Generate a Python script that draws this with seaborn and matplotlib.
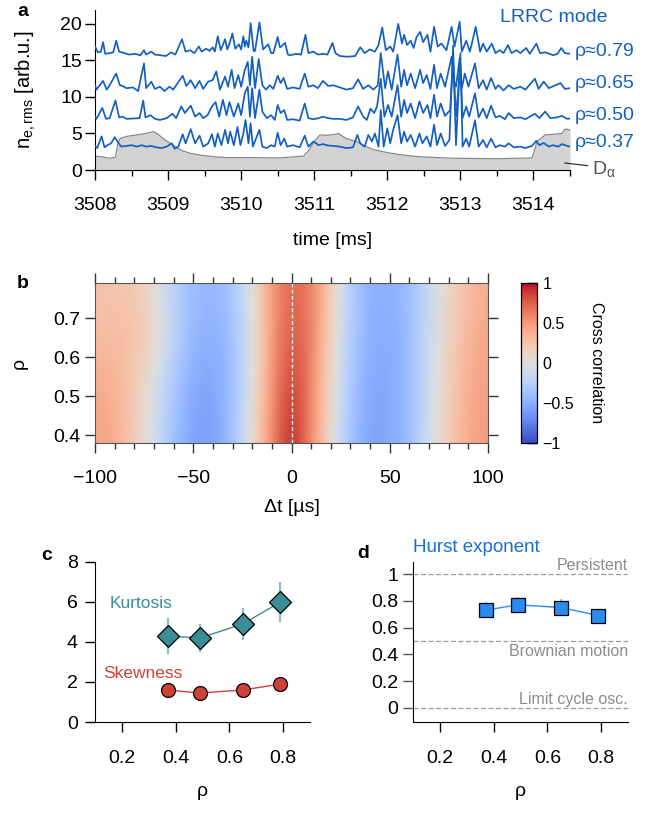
import numpy as np
import matplotlib
matplotlib.use("Agg")
import matplotlib.pyplot as plt
import seaborn as sns
from matplotlib.ticker import MultipleLocator, FixedLocator, FixedFormatter

sns.set_style("ticks")
plt.rcParams["font.family"] = ["Liberation Sans", "DejaVu Sans"]
plt.rcParams["mathtext.default"] = "regular"
for k in ["text.color", "axes.labelcolor", "xtick.color", "ytick.color", "axes.edgecolor"]:
    plt.rcParams[k] = "black"

# ---- panel a: rms density fluctuation traces (vertices) ----
t_079 = [3508.00, 3508.04, 3508.08, 3508.11, 3508.14, 3508.20, 3508.25, 3508.29, 3508.33, 3508.40,
         3508.47, 3508.55, 3508.62, 3508.67, 3508.70, 3508.77, 3508.82, 3508.90, 3508.97, 3509.04,
         3509.10, 3509.19, 3509.24, 3509.30, 3509.36, 3509.42, 3509.46, 3509.52, 3509.57, 3509.61,
         3509.64, 3509.68, 3509.72, 3509.78, 3509.81, 3509.84, 3509.88, 3509.92, 3509.97, 3510.00,
         3510.03, 3510.05, 3510.07, 3510.10, 3510.13, 3510.17, 3510.19, 3510.25, 3510.30, 3510.37,
         3510.41, 3510.44, 3510.50, 3510.53, 3510.55, 3510.60, 3510.64, 3510.67, 3510.75, 3510.82,
         3510.88, 3510.92, 3510.99, 3511.05, 3511.12, 3511.18, 3511.25, 3511.29, 3511.35, 3511.45,
         3511.56, 3511.63, 3511.69, 3511.76, 3511.83, 3511.88, 3511.93, 3511.98, 3512.04, 3512.08,
         3512.15, 3512.20, 3512.23, 3512.27, 3512.32, 3512.36, 3512.40, 3512.45, 3512.49, 3512.55,
         3512.59, 3512.64, 3512.69, 3512.74, 3512.81, 3512.88, 3512.92, 3512.99, 3513.02, 3513.08,
         3513.13, 3513.21, 3513.27, 3513.31, 3513.36, 3513.43, 3513.48, 3513.54, 3513.59, 3513.65,
         3513.70, 3513.77, 3513.82, 3513.90, 3513.95, 3514.04, 3514.09, 3514.16, 3514.22, 3514.27,
         3514.33, 3514.38, 3514.43, 3514.50]
n_079 = [16.9, 16.1, 16.2, 17.5, 15.9, 16.0, 16.1, 17.7, 16.2, 16.0,
         15.8, 15.9, 15.7, 16.4, 15.8, 16.2, 15.8, 15.7, 15.6, 16.1,
         15.8, 17.9, 16.2, 16.4, 16.0, 16.9, 16.2, 16.6, 16.3, 16.8,
         16.2, 18.3, 16.4, 17.9, 16.5, 17.3, 18.7, 16.6, 17.2, 16.5,
         18.3, 16.9, 17.7, 16.8, 20.1, 16.3, 16.3, 20.2, 16.5, 17.2,
         16.0, 16.0, 18.2, 16.8, 16.9, 17.4, 15.8, 15.7, 15.9, 15.8,
         18.5, 16.0, 16.2, 15.8, 15.9, 15.8, 17.4, 16.0, 15.6, 15.5,
         15.6, 16.8, 16.0, 16.5, 16.2, 17.1, 19.5, 16.4, 16.9, 16.2,
         20.0, 17.3, 18.5, 17.1, 17.7, 16.7, 18.2, 18.9, 17.5, 18.5,
         16.2, 19.6, 16.9, 17.3, 16.4, 19.6, 16.9, 20.3, 16.2, 17.7,
         16.2, 19.6, 16.2, 17.3, 16.2, 17.3, 16.0, 16.4, 16.0, 17.1,
         16.0, 16.4, 16.0, 16.7, 15.9, 17.3, 16.0, 16.1, 15.9, 15.7,
         15.9, 16.7, 16.0, 15.9]

t_065 = [3508.00, 3508.02, 3508.11, 3508.16, 3508.20, 3508.29, 3508.34, 3508.38, 3508.43, 3508.52,
         3508.59, 3508.67, 3508.70, 3508.77, 3508.82, 3508.89, 3508.95, 3509.02, 3509.07, 3509.20,
         3509.25, 3509.31, 3509.37, 3509.43, 3509.48, 3509.55, 3509.61, 3509.66, 3509.71, 3509.78,
         3509.82, 3509.87, 3509.91, 3509.96, 3510.00, 3510.05, 3510.09, 3510.12, 3510.15, 3510.19,
         3510.24, 3510.29, 3510.34, 3510.39, 3510.44, 3510.50, 3510.54, 3510.58, 3510.63, 3510.71,
         3510.80, 3510.87, 3510.92, 3510.99, 3511.05, 3511.12, 3511.19, 3511.26, 3511.35, 3511.44,
         3511.53, 3511.60, 3511.67, 3511.74, 3511.81, 3511.87, 3511.91, 3511.97, 3512.01, 3512.06,
         3512.14, 3512.19, 3512.23, 3512.27, 3512.32, 3512.38, 3512.45, 3512.49, 3512.54, 3512.59,
         3512.64, 3512.68, 3512.73, 3512.79, 3512.88, 3512.91, 3512.94, 3512.99, 3513.02, 3513.06,
         3513.11, 3513.20, 3513.25, 3513.31, 3513.36, 3513.42, 3513.48, 3513.52, 3513.59, 3513.66,
         3513.73, 3513.82, 3513.89, 3514.02, 3514.07, 3514.14, 3514.21, 3514.30, 3514.37, 3514.43,
         3514.50]
n_065 = [11.6, 11.0, 12.2, 11.0, 11.6, 13.2, 11.6, 11.5, 11.2, 11.3,
         10.8, 14.6, 11.2, 12.1, 11.1, 11.4, 10.8, 11.4, 11.0, 12.9,
         11.5, 12.3, 11.2, 12.2, 11.1, 12.1, 12.3, 13.5, 11.0, 12.8,
         11.4, 13.7, 11.2, 13.0, 11.4, 13.7, 14.8, 11.6, 15.5, 11.2,
         15.2, 11.6, 11.0, 11.6, 11.1, 12.9, 11.9, 12.6, 11.1, 11.3,
         11.1, 13.2, 11.4, 11.6, 11.2, 12.2, 11.5, 11.6, 11.3, 11.0,
         11.2, 12.4, 11.1, 11.6, 11.0, 11.6, 16.0, 11.2, 13.5, 11.0,
         15.8, 11.4, 13.7, 11.6, 13.2, 11.2, 13.7, 11.9, 13.0, 11.1,
         14.4, 11.2, 13.2, 11.4, 15.5, 12.3, 11.4, 15.3, 11.2, 13.2,
         11.4, 14.6, 11.2, 12.3, 11.0, 12.6, 11.1, 11.6, 10.9, 11.6,
         11.1, 11.4, 11.0, 12.5, 11.1, 12.1, 11.2, 11.6, 11.9, 11.1,
         11.2]

t_050 = [3508.00, 3508.02, 3508.10, 3508.15, 3508.20, 3508.28, 3508.33, 3508.38, 3508.43, 3508.52,
         3508.61, 3508.66, 3508.69, 3508.76, 3508.82, 3508.89, 3508.98, 3509.06, 3509.11, 3509.18,
         3509.23, 3509.31, 3509.37, 3509.43, 3509.48, 3509.54, 3509.60, 3509.65, 3509.70, 3509.75,
         3509.80, 3509.84, 3509.90, 3509.96, 3510.00, 3510.05, 3510.09, 3510.12, 3510.15, 3510.19,
         3510.25, 3510.29, 3510.35, 3510.41, 3510.46, 3510.50, 3510.54, 3510.59, 3510.63, 3510.71,
         3510.80, 3510.87, 3510.92, 3510.99, 3511.06, 3511.12, 3511.19, 3511.26, 3511.35, 3511.44,
         3511.53, 3511.60, 3511.67, 3511.72, 3511.77, 3511.82, 3511.86, 3511.91, 3511.96, 3512.01,
         3512.06, 3512.14, 3512.19, 3512.23, 3512.27, 3512.32, 3512.38, 3512.44, 3512.49, 3512.55,
         3512.59, 3512.64, 3512.68, 3512.73, 3512.79, 3512.86, 3512.90, 3512.94, 3513.00, 3513.03,
         3513.08, 3513.12, 3513.20, 3513.25, 3513.31, 3513.36, 3513.42, 3513.48, 3513.54, 3513.61,
         3513.66, 3513.73, 3513.82, 3513.89, 3514.02, 3514.08, 3514.16, 3514.23, 3514.32, 3514.39,
         3514.46, 3514.50]
n_050 = [7.3, 7.0, 8.5, 7.0, 7.1, 9.5, 7.2, 7.3, 7.0, 7.05,
         7.1, 9.5, 7.2, 7.5, 7.0, 6.85, 7.1, 7.7, 7.1, 8.7,
         7.8, 8.8, 7.3, 7.8, 7.1, 7.5, 8.7, 9.3, 7.3, 9.6,
         7.5, 9.3, 7.3, 9.1, 7.5, 10.5, 11.4, 7.3, 11.2, 7.1,
         11.0, 8.0, 7.1, 7.5, 6.85, 8.9, 7.8, 8.2, 6.85, 6.95,
         6.75, 9.1, 7.1, 6.95, 7.1, 7.3, 7.1, 7.0, 7.0, 6.85,
         7.2, 8.7, 7.3, 6.85, 8.4, 7.8, 8.7, 12.5, 7.3, 8.9,
         7.3, 11.6, 7.3, 9.6, 7.8, 9.1, 7.1, 9.4, 7.8, 8.9,
         7.1, 10.3, 7.3, 9.1, 7.4, 8.2, 15.0, 7.3, 14.5, 7.1,
         8.7, 7.3, 10.5, 7.2, 8.4, 7.1, 8.8, 7.2, 7.4, 6.95,
         7.8, 7.1, 7.2, 6.95, 7.7, 7.1, 8.0, 7.1, 7.2, 7.4,
         7.0, 7.05]

t_037 = [3508.00, 3508.03, 3508.09, 3508.13, 3508.17, 3508.22, 3508.27, 3508.32, 3508.36, 3508.43,
         3508.50, 3508.57, 3508.64, 3508.70, 3508.77, 3508.84, 3508.91, 3508.98, 3509.05, 3509.09,
         3509.14, 3509.20, 3509.24, 3509.31, 3509.37, 3509.43, 3509.48, 3509.55, 3509.60, 3509.64,
         3509.68, 3509.73, 3509.78, 3509.82, 3509.85, 3509.90, 3509.95, 3509.99, 3510.03, 3510.06,
         3510.10, 3510.13, 3510.16, 3510.25, 3510.29, 3510.35, 3510.41, 3510.46, 3510.50, 3510.54,
         3510.59, 3510.63, 3510.71, 3510.80, 3510.87, 3510.92, 3510.99, 3511.06, 3511.12, 3511.19,
         3511.26, 3511.35, 3511.44, 3511.53, 3511.59, 3511.63, 3511.69, 3511.74, 3511.79, 3511.83,
         3511.88, 3511.91, 3511.95, 3512.00, 3512.04, 3512.08, 3512.14, 3512.19, 3512.23, 3512.27,
         3512.32, 3512.38, 3512.44, 3512.48, 3512.54, 3512.59, 3512.64, 3512.68, 3512.73, 3512.79,
         3512.85, 3512.90, 3512.94, 3513.00, 3513.03, 3513.08, 3513.12, 3513.20, 3513.25, 3513.31,
         3513.36, 3513.42, 3513.48, 3513.54, 3513.61, 3513.66, 3513.73, 3513.82, 3513.89, 3513.98,
         3514.04, 3514.08, 3514.14, 3514.21, 3514.27, 3514.34, 3514.39, 3514.46, 3514.50]
n_037 = [3.3, 3.0, 4.6, 3.1, 3.4, 3.65, 4.5, 3.7, 3.2, 3.3,
         3.4, 3.2, 3.4, 3.2, 3.3, 3.1, 3.0, 3.2, 3.65, 2.9,
         3.2, 4.9, 3.65, 5.6, 3.65, 4.7, 3.2, 3.65, 4.9, 3.2,
         5.0, 3.4, 5.5, 3.65, 5.25, 3.4, 5.9, 3.4, 5.0, 6.85,
         3.65, 6.4, 3.2, 5.5, 3.2, 3.0, 3.4, 3.2, 5.1, 3.4,
         4.3, 3.2, 3.4, 3.1, 4.7, 3.2, 3.9, 3.4, 3.55, 3.35,
         3.3, 3.2, 3.0, 3.1, 4.8, 3.65, 3.2, 4.8, 3.9, 5.0,
         3.2, 8.2, 3.2, 5.7, 3.65, 5.5, 7.5, 3.65, 5.25, 3.9,
         4.8, 3.2, 5.0, 3.65, 4.6, 3.2, 6.2, 3.4, 5.0, 3.3,
         4.1, 17.0, 3.4, 16.0, 3.2, 4.3, 3.2, 6.8, 3.2, 4.1,
         3.1, 4.3, 3.1, 3.4, 3.2, 3.65, 3.1, 3.2, 3.0, 3.3,
         4.0, 3.4, 3.7, 3.2, 3.4, 3.2, 3.55, 3.3, 3.2]

t_dalpha = [3508.00, 3508.10, 3508.20, 3508.28, 3508.31, 3508.34, 3508.43, 3508.57, 3508.70, 3508.80,
            3508.86, 3508.96, 3509.07, 3509.18, 3509.30, 3509.43, 3509.64, 3509.80, 3510.10, 3510.53,
            3510.85, 3510.92, 3511.00, 3511.08, 3511.18, 3511.29, 3511.33, 3511.44, 3511.58, 3511.67,
            3511.81, 3511.99, 3512.17, 3512.45, 3512.93, 3513.50, 3513.98, 3514.00, 3514.05, 3514.16,
            3514.39, 3514.43, 3514.50]
v_dalpha = [1.9, 1.8, 1.6, 1.75, 3.5, 4.3, 4.6, 4.8, 5.0, 5.25,
            4.9, 4.1, 3.4, 2.7, 2.3, 2.05, 1.8, 1.7, 1.7, 1.65,
            1.9, 2.6, 3.9, 4.8, 4.75, 4.9, 5.0, 4.3, 3.9, 3.4,
            2.8, 2.4, 2.1, 1.8, 1.6, 1.55, 1.65, 2.3, 3.9, 4.8,
            5.0, 5.6, 5.5]

trace_labels = ["ρ≈0.79", "ρ≈0.65", "ρ≈0.50", "ρ≈0.37"]
trace_label_y = [16.2, 11.9, 7.5, 3.8]

# ---- panel b: cross correlation map ----
dt_cols = [-100, -90, -80, -70, -60, -50, -40, -30, -20, -10, 0, 10, 20, 30, 40, 50, 60, 70, 80, 90, 100]
rho_rows = [0.38, 0.52, 0.65, 0.79]
cc_038 = [0.45, 0.42, 0.22, -0.08, -0.40, -0.58, -0.60, -0.40, 0.05, 0.60, 1.00,
          0.60, 0.05, -0.40, -0.58, -0.55, -0.40, -0.10, 0.20, 0.42, 0.50]
cc_052 = [0.42, 0.38, 0.20, -0.05, -0.35, -0.55, -0.58, -0.42, 0.00, 0.55, 0.93,
          0.60, 0.10, -0.35, -0.55, -0.55, -0.42, -0.12, 0.20, 0.40, 0.48]
cc_065 = [0.30, 0.30, 0.28, 0.12, -0.20, -0.45, -0.50, -0.40, -0.05, 0.50, 0.80,
          0.65, 0.15, -0.30, -0.50, -0.52, -0.42, -0.15, 0.15, 0.35, 0.45]
cc_079 = [0.25, 0.25, 0.22, 0.05, -0.25, -0.42, -0.45, -0.35, 0.00, 0.55, 0.72,
          0.65, 0.20, -0.30, -0.50, -0.50, -0.42, -0.15, 0.12, 0.30, 0.40]

# ---- panels c, d: statistics vs rho ----
rho = [0.37, 0.49, 0.65, 0.79]
kurtosis = [4.3, 4.2, 4.9, 6.0]
kurtosis_err = [0.9, 0.7, 0.8, 1.0]
skewness = [1.6, 1.45, 1.6, 1.9]
skewness_err = [0.15, 0.12, 0.15, 0.35]
hurst = [0.73, 0.77, 0.75, 0.69]
hurst_err = [0.06, 0.06, 0.06, 0.05]

W, H = 660, 813


def box(x0, y0, x1, y1):
    return [x0 / W, 1 - y1 / H, (x1 - x0) / W, (y1 - y0) / H]


blue = "#1460bf"
fig = plt.figure(figsize=(6.6, 8.13), dpi=100)

# ================= a =================
ax = fig.add_axes(box(95, 10, 570, 170))
ax.fill_between(t_dalpha, 0, v_dalpha, color="#d3d3d3", lw=0, zorder=1)
ax.plot(t_dalpha, v_dalpha, color="#8a8a8a", lw=0.9, zorder=1.5)
for tt, nn in [(t_079, n_079), (t_065, n_065), (t_050, n_050), (t_037, n_037)]:
    sns.lineplot(x=tt, y=nn, ax=ax, color=blue, lw=1.25, estimator=None, sort=False, zorder=3)
ax.set_xlim(3508, 3514.5)
ax.set_ylim(0, 21.9)
ax.xaxis.set_major_locator(MultipleLocator(1))
ax.xaxis.set_minor_locator(MultipleLocator(0.5))
ax.yaxis.set_major_locator(MultipleLocator(5))
sns.despine(ax=ax)
ax.tick_params(axis="x", which="major", length=7.5, width=1, labelsize=14, pad=12)
ax.tick_params(axis="x", which="minor", length=4, width=1)
ax.tick_params(axis="y", length=7.5, width=1, labelsize=14, pad=2)
ax.set_xlabel("time [ms]", fontsize=14)
ax.xaxis.set_label_coords(0.5, -0.39)
ax.set_ylabel("n$_{e,rms}$ [arb.u.]", fontsize=14.5)
ax.yaxis.set_label_coords(-0.12, 0.5)
for lab, yy in zip(trace_labels, trace_label_y):
    ax.text(3514.57, yy, lab, color=blue, fontsize=14, va="center", ha="left", clip_on=False)
ax.text(3514.8, 0.1, r"D$_\alpha$", color="#555555", fontsize=14, va="center", ha="left", clip_on=False)
ax.annotate("", xy=(3514.39, 1.0), xytext=(3514.78, 0.55),
            arrowprops=dict(arrowstyle="-", color="#333333", lw=0.9), annotation_clip=False)
fig.text(500 / W, 1 - 18 / H, "LRRC mode", color=blue, fontsize=14, ha="left", va="center")

# ================= b =================
axb = fig.add_axes(box(95, 283, 488, 443))
cc = np.array([cc_038, cc_052, cc_065, cc_079])
dx = dt_cols[1] - dt_cols[0]
dy = (rho_rows[-1] - rho_rows[0]) / (len(rho_rows) - 1)
im = axb.imshow(cc, origin="lower", aspect="auto", cmap="coolwarm", vmin=-1, vmax=1,
                interpolation="bicubic",
                extent=[dt_cols[0] - dx / 2, dt_cols[-1] + dx / 2,
                        rho_rows[0] - dy / 2, rho_rows[-1] + dy / 2])
axb.set_xlim(-100, 100)
axb.set_ylim(0.38, 0.79)
axb.axvline(0, color="white", ls=(0, (3, 2)), lw=0.9)
axb.xaxis.set_major_locator(MultipleLocator(50))
axb.xaxis.set_minor_locator(MultipleLocator(10))
axb.yaxis.set_major_locator(FixedLocator([0.4, 0.5, 0.6, 0.7]))
axb.yaxis.set_major_formatter(FixedFormatter(["0.4", "0.5", "0.6", "0.7"]))
axb.tick_params(which="both", top=True, right=True, direction="out", color="#333333", width=1)
axb.tick_params(which="major", length=7.5, labelsize=14)
axb.tick_params(which="minor", length=4)
axb.tick_params(axis="x", pad=12)
axb.tick_params(axis="y", pad=3)
for s in axb.spines.values():
    s.set_color("#555555")
axb.set_xlabel("Δt [µs]", fontsize=14)
axb.xaxis.set_label_coords(0.5, -0.35)
axb.set_ylabel("ρ", fontsize=14)
axb.yaxis.set_label_coords(-0.17, 0.5)

cax = fig.add_axes(box(521, 283, 537, 443))
cb = fig.colorbar(im, cax=cax, ticks=[-1, -0.5, 0, 0.5, 1])
cb.ax.set_yticklabels(["\u22121", "\u22120.5", "0", "0.5", "1"])
cax.tick_params(direction="in", length=7, width=1, labelsize=11.5, pad=4)
cb.outline.set_linewidth(0.9)
fig.text(596 / W, 1 - 363 / H, "Cross correlation", rotation=270, fontsize=11.5,
         ha="center", va="center")

# ================= c =================
teal = "#3b8e95"
red = "#cf4236"
axc = fig.add_axes(box(95, 562, 310, 722))
axc.errorbar(rho, kurtosis, yerr=kurtosis_err, fmt="none", ecolor="#86c0c4", elinewidth=1.6, zorder=1)
axc.errorbar(rho, skewness, yerr=skewness_err, fmt="none", ecolor="#e59088", elinewidth=1.6, zorder=1)
sns.lineplot(x=rho, y=kurtosis, ax=axc, color=teal, lw=1, marker="D", markersize=11,
             markeredgecolor="black", markeredgewidth=0.9, zorder=3)
sns.lineplot(x=rho, y=skewness, ax=axc, color=red, lw=1, marker="o", markersize=10,
             markeredgecolor="black", markeredgewidth=0.9, zorder=3)
axc.text(0.155, 5.95, "Kurtosis", color=teal, fontsize=12.5, ha="left", va="center")
axc.text(0.13, 2.45, "Skewness", color=red, fontsize=12.5, ha="left", va="center")
axc.set_xlim(0.1, 0.9)
axc.set_ylim(0, 8)
axc.xaxis.set_major_locator(FixedLocator([0.2, 0.4, 0.6, 0.8]))
axc.yaxis.set_major_locator(MultipleLocator(2))
sns.despine(ax=axc)
axc.tick_params(length=7.5, width=1, labelsize=14)
axc.tick_params(axis="x", pad=13)
axc.tick_params(axis="y", pad=5)
axc.set_xlabel("ρ", fontsize=14)
axc.xaxis.set_label_coords(0.5, -0.38)

# ================= d =================
hblue = "#2a8cf0"
axd = fig.add_axes(box(413, 562, 628, 722))
for yy in [1.0, 0.5, 0.0]:
    axd.axhline(yy, color="#9a9a9a", ls=(0, (4, 2)), lw=0.9, zorder=0)
grey = "#8c8c8c"
axd.text(0.9, 1.005, "Persistent", color=grey, fontsize=11.5, ha="right", va="bottom")
axd.text(0.9, 0.48, "Brownian motion", color=grey, fontsize=11.5, ha="right", va="top")
axd.text(0.9, 0.005, "Limit cycle osc.", color=grey, fontsize=11.5, ha="right", va="bottom")
axd.errorbar(rho, hurst, yerr=hurst_err, fmt="none", ecolor="#8cc3f5", elinewidth=1.6, zorder=1)
sns.lineplot(x=rho, y=hurst, ax=axd, color=hblue, lw=1, marker="s", markersize=10,
             markeredgecolor="black", markeredgewidth=0.9, zorder=3)
axd.text(0.0, 1.09, "Hurst exponent", color="#1a6fd6", fontsize=13.5, ha="left", va="center",
         transform=axd.transAxes)
axd.set_xlim(0.1, 0.9)
axd.set_ylim(-0.105, 1.09)
axd.xaxis.set_major_locator(FixedLocator([0.2, 0.4, 0.6, 0.8]))
axd.yaxis.set_major_locator(FixedLocator([0, 0.2, 0.4, 0.6, 0.8, 1.0]))
axd.yaxis.set_major_formatter(FixedFormatter(["0", "0.2", "0.4", "0.6", "0.8", "1"]))
sns.despine(ax=axd)
axd.tick_params(length=7.5, width=1, labelsize=14)
axd.tick_params(axis="y", color="#555555", pad=3)
axd.tick_params(axis="x", pad=13)
axd.set_xlabel("ρ", fontsize=14)
axd.xaxis.set_label_coords(0.5, -0.38)

# panel letters
for lab, px, py in [("a", 23, 12), ("b", 23, 283), ("c", 47, 555), ("d", 363, 553)]:
    fig.text(px / W, 1 - py / H, lab, fontsize=14, fontweight="bold", ha="center", va="center")

fig.savefig("out.png", dpi=100)
